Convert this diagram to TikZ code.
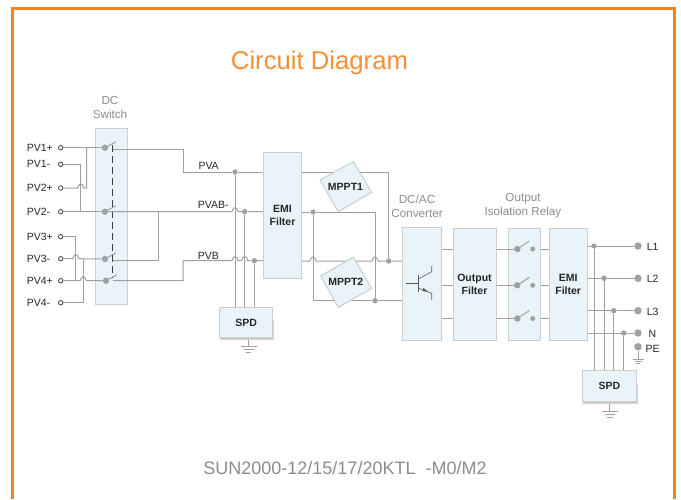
\documentclass[tikz,border=0pt]{standalone}
\usepackage{fontspec}
\setmainfont{Liberation Sans}
\definecolor{frameor}{HTML}{F58220}
\definecolor{wirec}{HTML}{9EA0A2}
\definecolor{boxfill}{HTML}{E8F4FA}
\definecolor{boxline}{HTML}{C9CED0}
\definecolor{captc}{HTML}{8A8D8F}
\definecolor{shadowc}{HTML}{CDCFD0}
\newcommand{\hopat}[2]{-- (#1-3,#2) .. controls (#1-2,#2-5.5) and (#1+2,#2-5.5) .. (#1+3,#2)}
\tikzset{
  wire/.style={draw=wirec,line width=1pt},
  thinw/.style={draw=black!65,line width=0.6pt},
  box/.style={draw=boxline,fill=boxfill,line width=1pt,inner sep=0pt,align=center,font=\fontsize{10.5}{13}\selectfont\bfseries,text=black!85},
  jn/.style={circle,fill=wirec,inner sep=0pt,minimum size=5.4pt},
  term/.style={circle,draw=black!75,fill=white,line width=0.8pt,inner sep=0pt,minimum size=4.4pt},
  bigterm/.style={circle,fill=wirec,inner sep=0pt,minimum size=7.4pt},
  swdot/.style={circle,fill=wirec,inner sep=0pt,minimum size=6.4pt},
  lab/.style={inner sep=0pt,font=\fontsize{10.5}{12}\selectfont,text=black!85},
  capt/.style={inner sep=0pt,align=center,font=\fontsize{11.7}{14}\selectfont,text=captc},
  mppt/.style={draw=boxline,fill=boxfill,line width=1pt,line join=miter},
}
\begin{document}
\begin{tikzpicture}[x=1pt,y=-1pt]
\useasboundingbox (0,0) rectangle (681,499);
\fill[white] (0,0) rectangle (681,499);
\draw[frameor,line width=3pt] (12.5,499) -- (12.5,8.5) -- (674,8.5) -- (674,499);

% titles
\node[inner sep=0pt,font=\fontsize{25.7}{30}\selectfont,text=frameor!90] (title) at (319.5,62.5) {Circuit Diagram};
\node[inner sep=0pt,font=\fontsize{18}{22}\selectfont,text=captc] (model) at (345,468) {SUN2000-12/15/17/20KTL\ \ -M0/M2};
\node[capt] (capsw) at (110,107.5) {DC\\Switch};
\node[capt] (capdc) at (417,206) {DC/AC\\Converter};
\node[capt] (caprl) at (523,205.5) {Output\\Isolation Relay};

% shadows
\fill[shadowc] (220,320) rectangle (273.5,340.3);
\fill[shadowc] (583,385) rectangle (637.5,404);

% boxes
\node[box,minimum width=32.3pt,minimum height=176.3pt] (dcsw) at (111.8,216.8) {};
\node[box,minimum width=38.4pt,minimum height=125.3pt] (emia) at (282.5,215.4) {EMI\\Filter};
\node[box,minimum width=39.4pt,minimum height=113pt] (conv) at (422,283.8) {};
\node[box,minimum width=43pt,minimum height=112.7pt] (ofil) at (474.5,284.6) {Output\\Filter};
\node[box,minimum width=32.4pt,minimum height=112.7pt] (rely) at (524.5,284.6) {};
\node[box,minimum width=38.3pt,minimum height=112.7pt] (emib) at (568.2,284.6) {EMI\\Filter};
\node[box,minimum width=53pt,minimum height=30pt] (spda) at (246.2,322.7) {SPD};
\node[box,minimum width=54.4pt,minimum height=31pt] (spdb) at (609.5,385.5) {SPD};

% PV terminals
\foreach \n/\t/\y in {a/PV1+/147.7,b/PV1-/164.3,c/PV2+/188,d/PV2-/211.7,e/PV3+/236.7,f/PV3-/258.7,g/PV4+/280.7,h/PV4-/302.7}{
  \node[term] (t\n) at (60.7,\y) {};
  \node[lab,anchor=west] (l\n) at (26.7,\y) {\t};
}
% switches
\node[swdot] (sa) at (105,147.7) {};
\node[swdot] (sb) at (105,211.7) {};
\node[swdot] (sc) at (105,259) {};
\node[swdot] (sd) at (106,280.7) {};
\coordinate (ba) at (116,141.7);
\coordinate (bb) at (116,205.7);
\coordinate (bc) at (116,253);
\coordinate (bd) at (117,274.7);
\foreach \s/\b in {sa/ba,sb/bb,sc/bc,sd/bd}{\draw[wire] (\s) -- (\b);}
\coordinate (da) at (112.7,145);
\coordinate (dz) at (112.7,278);
\draw[black!75,line width=0.9pt,dash pattern=on 7pt off 4pt] (da) -- (dz);

% input wiring
\coordinate (n1) at (86.7,147.7);
\coordinate (n2) at (80.7,211.7);
\coordinate (n3) at (75.7,280.7);
\coordinate (n4) at (83.3,258.7);
\draw[wire] (ta) -- (sa);
\draw[wire] (tc.east) \hopat{80.7}{188} -- (86.7,188) -- (n1);
\draw[wire] (tb.east) -- (80.7,164.3) -- (n2);
\draw[wire] (td) -- (sb);
\draw[wire] (te.east) -- (75.7,236.7) -- (n3);
\draw[wire] (tf.east) \hopat{75.7}{258.7} -- (sc.west);
\draw[wire] (tg.east) \hopat{83.3}{280.7} -- (sd.west);
\draw[wire] (th.east) -- (83.3,302.7) -- (n4);

% DC switch outputs and buses
\node[jn] (ja) at (235,172) {};
\node[jn] (jb) at (244.7,211.7) {};
\node[jn] (jc) at (254.3,260.7) {};
\coordinate (oa) at (113,149);
\coordinate (oc) at (113,260.3);
\coordinate (od) at (113,280.7);
\draw[wire] (oa) -- (183,149) -- (183,172) -- (ja) -- (emia.west |- ja);
\draw[wire] (sb) \hopat{235}{211.7} -- (jb) -- (emia.west |- jb);
\draw[wire] (oc) -- (158.3,260.3) -- (158.3,211.7);
\draw[wire] (od) -- (183,280.7) -- (183,260.7) \hopat{235}{260.7} \hopat{244.7}{260.7} -- (jc) -- (emia.west |- jc);
\draw[wire] (ja) -- (ja |- spda.north);
\draw[wire] (jb) -- (jb |- spda.north);
\draw[wire] (jc) -- (jc |- spda.north);
\node[lab,anchor=west] (pva) at (198.3,165.7) {PVA};
\node[lab,anchor=west] (pvab) at (197.6,205) {PVAB-};
\node[lab,anchor=west] (pvb) at (197.6,256) {PVB};

% EMI to converter
\node[jn] (jd) at (313,212) {};
\node[jn] (je) at (388.7,261) {};
\node[jn] (jf) at (375,300.7) {};
\draw[wire] (emia.east |- 0,172.3) -- (388.7,172.3) -- (je);
\draw[wire] (emia.east |- jd) -- (jd) -- (375,212) -- (jf);
\draw[wire] (jd) -- (313,300.7) -- (jf) -- (conv.west |- jf);
\draw[wire] (emia.east |- je) \hopat{313}{261} \hopat{375}{261} -- (je) -- (conv.west |- je);
\draw[mppt] (353.3,161.7) -- (371.7,192.3) -- (338.3,211.7) -- (320,180) -- cycle;
\draw[mppt] (353.3,257.3) -- (371.7,288.3) -- (338.3,307.3) -- (320.7,276) -- cycle;
\node[inner sep=0pt,font=\fontsize{10.5}{13}\selectfont\bfseries,text=black!85] (mpl1) at (345.5,186.5) {MPPT1};
\node[inner sep=0pt,font=\fontsize{10.5}{13}\selectfont\bfseries,text=black!85] (mpl2) at (345.8,282) {MPPT2};

% transistor
\coordinate (qb) at (406,283.3);
\coordinate (qc) at (418.3,283.3);
\coordinate (qt) at (418.3,275);
\coordinate (qd) at (418.3,291.7);
\draw[thinw] (qb) -- (qc);
\draw[thinw] (qt) -- (qd);
\draw[thinw] (418.3,279) -- (431.7,271.7) -- (431.7,266);
\draw[thinw] (418.3,288) -- (431.7,293.3) -- (431.7,300);
\fill[black!65] (428,292) -- (423.5,287.8) -- (422.3,291) -- cycle;

% converter - filter - relay - emi
\foreach \n/\y in {a/249,b/285.3,c/318.5}{
  \node[swdot] (r\n) at (517.3,\y) {};
  \node[circle,fill=wirec,inner sep=0pt,minimum size=5pt] (q\n) at (532.7,\y) {};
  \draw[wire] (r\n) -- (529.3,\y-8);
  \draw[wire] (conv.east |- r\n) -- (ofil.west |- r\n);
  \draw[wire] (ofil.east |- r\n) -- (r\n);
  \draw[wire] (rely.east |- r\n) -- (emib.west |- r\n);
}

% output wiring
\node[bigterm] (to1) at (638,246) {};
\node[bigterm] (to2) at (638,278.3) {};
\node[bigterm] (to3) at (638,310.7) {};
\node[bigterm] (to4) at (638,333) {};
\node[bigterm] (to5) at (638,346.7) {};
\node[jn] (k1) at (594,246) {};
\node[jn] (k2) at (604,278.3) {};
\node[jn] (k3) at (613.7,310.7) {};
\node[jn] (k4) at (623.7,333) {};
\foreach \i in {1,2,3,4}{
  \draw[wire] (emib.east |- to\i) -- (to\i);
  \draw[wire] (k\i) -- (k\i |- spdb.north);
}
\node[lab,anchor=west] (ll1) at (646.7,246.5) {L1};
\node[lab,anchor=west] (ll2) at (646.7,279) {L2};
\node[lab,anchor=west] (ll3) at (646.7,311.5) {L3};
\node[lab,anchor=west] (ll4) at (648.5,333.5) {N};
\node[lab,anchor=west] (ll5) at (645.5,349) {PE};

% grounds
\coordinate (ga) at (248.3,346.7);
\coordinate (gb) at (609.7,411.7);
\coordinate (gc) at (638,359);
\draw[wire] (248.3,340) -- (ga);
\draw[wire] (240.7,346.7) -- (256.7,346.7) (243.5,349.5) -- (253.5,349.5) (246,352.3) -- (251,352.3);
\draw[wire] (609.7,404) -- (gb);
\draw[wire] (602,411.7) -- (618,411.7) (604.5,414.5) -- (615,414.5) (607,417.3) -- (612.5,417.3);
\draw[wire] (to5) -- (gc);
\draw[wire] (632.5,359) -- (643.5,359) (634.5,361) -- (641.5,361) (636,363) -- (640,363);
\end{tikzpicture}
\end{document}
